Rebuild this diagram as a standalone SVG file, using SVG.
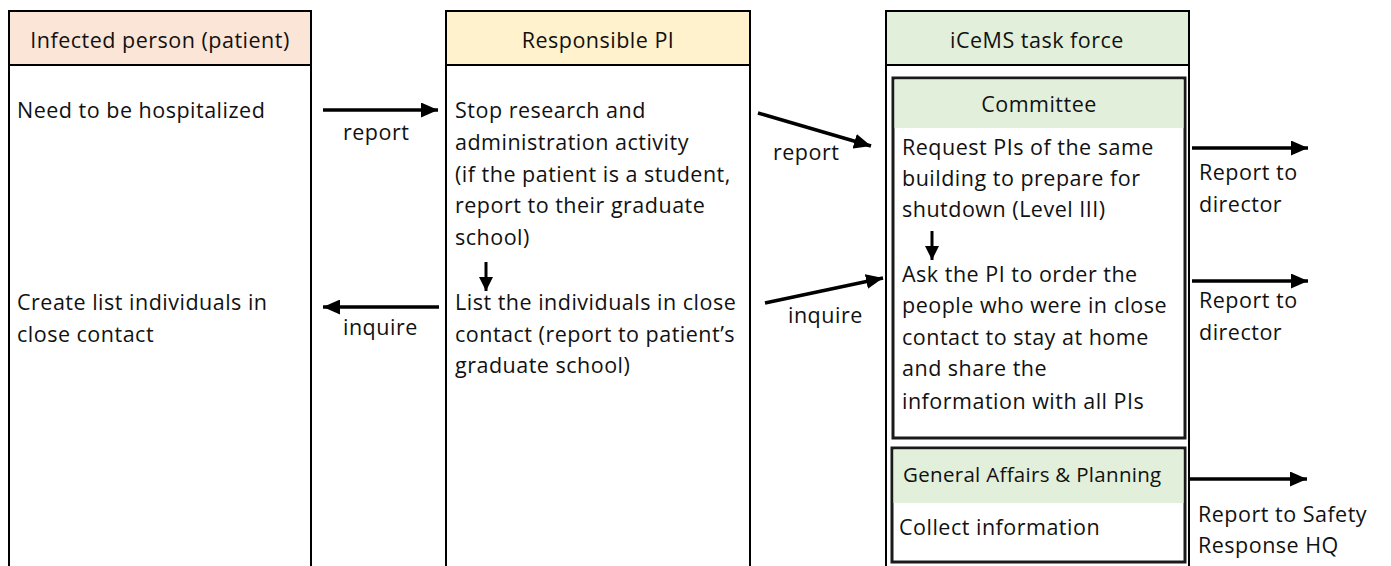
<svg xmlns="http://www.w3.org/2000/svg" width="1391" height="566" viewBox="0 0 1391 566">
<style>
text{font-family:"Open Sans","Noto Sans","Liberation Sans",sans-serif;font-size:21.5px;fill:#111;letter-spacing:0.5px}
.hd{text-anchor:middle}
.col{fill:#fff;stroke:#000;stroke-width:2}
.hline{stroke:#000;stroke-width:2}
.box{fill:#fff;stroke:#1a1a1a;stroke-width:3}
.arr{stroke:#000;stroke-width:3.5;fill:none;marker-end:url(#ah)}
.arrs{stroke:#000;stroke-width:3;fill:none;marker-end:url(#ahs)}
.sm{font-size:20.5px;letter-spacing:0.3px}
</style>
<defs>
<marker id="ah" markerUnits="userSpaceOnUse" markerWidth="17" markerHeight="15" refX="17" refY="7.5" orient="auto"><path d="M0,0 L17,7.5 L0,15 z" fill="#000"/></marker>
<marker id="ahs" markerUnits="userSpaceOnUse" markerWidth="14" markerHeight="14" refX="14" refY="7" orient="auto"><path d="M0,0 L14,7 L0,14 z" fill="#000"/></marker>
</defs>
<rect width="1391" height="566" fill="#fff"/>

<g id="patient">
<rect class="col" x="9" y="11" width="302" height="600"/>
<rect x="10" y="12" width="300" height="53" fill="#FBE5D6"/>
<line class="hline" x1="9" y1="65" x2="311" y2="65"/>
<text class="hd" x="160" y="48">Infected person (patient)</text>
<text x="17" y="118">Need to be hospitalized</text>
<text x="17" y="310">Create list individuals in</text>
<text x="17" y="342">close contact</text>
</g>

<g id="pi">
<rect class="col" x="446" y="11" width="304" height="600"/>
<rect x="447" y="12" width="302" height="53" fill="#FFF2CC"/>
<line class="hline" x1="446" y1="65" x2="750" y2="65"/>
<text class="hd" x="598" y="48">Responsible PI</text>
<text x="455" y="118">Stop research and</text>
<text x="455" y="150">administration activity</text>
<text x="455" y="182">(if the patient is a student,</text>
<text x="455" y="213">report to their graduate</text>
<text x="455" y="245">school)</text>
<text x="455" y="310">List the individuals in close</text>
<text x="455" y="342">contact (report to patient’s</text>
<text x="455" y="373">graduate school)</text>
</g>

<g id="taskforce">
<rect class="col" x="886" y="11" width="303" height="600"/>
<rect x="887" y="12" width="301" height="53" fill="#E2EFDA"/>
<line class="hline" x1="886" y1="65" x2="1189" y2="65"/>
<text class="hd" x="1037" y="48">iCeMS task force</text>
</g>

<g id="committee">
<rect class="box" x="893" y="78" width="292" height="360"/>
<rect x="894.5" y="79.5" width="289" height="48.5" fill="#E2EFDA"/>
<text class="hd" x="1039" y="112">Committee</text>
<text x="902" y="155">Request PIs of the same</text>
<text x="902" y="186">building to prepare for</text>
<text x="902" y="217">shutdown (Level III)</text>
<text x="902" y="282">Ask the PI to order the</text>
<text x="902" y="313">people who were in close</text>
<text x="902" y="345">contact to stay at home</text>
<text x="902" y="376">and share the</text>
<text x="902" y="409">information with all PIs</text>
</g>

<g id="general-affairs">
<rect class="box" x="892" y="448" width="293" height="114"/>
<rect x="893.5" y="449.5" width="290" height="53.5" fill="#E2EFDA"/>
<text class="sm" x="903" y="482">General Affairs &amp; Planning</text>
<text x="899" y="535">Collect information</text>
</g>

<g id="outputs">
<text x="1199" y="180">Report to</text>
<text x="1199" y="212">director</text>
<text x="1199" y="308">Report to</text>
<text x="1199" y="340">director</text>
<text x="1198" y="522">Report to Safety</text>
<text x="1198" y="553">Response HQ</text>
</g>

<g id="connectors">
<line class="arr" x1="323" y1="110" x2="438" y2="110"/>
<text x="343" y="140">report</text>
<line class="arr" x1="439" y1="307" x2="323" y2="307"/>
<text x="343" y="335">inquire</text>
<line class="arr" x1="758" y1="113" x2="871" y2="146"/>
<text x="773" y="160">report</text>
<line class="arr" x1="765" y1="303" x2="883" y2="278"/>
<text x="788" y="323">inquire</text>
<line class="arrs" x1="486" y1="262" x2="486" y2="291"/>
<line class="arrs" x1="932" y1="231" x2="932" y2="260"/>
<line class="arr" x1="1192" y1="148" x2="1308" y2="148"/>
<line class="arr" x1="1192" y1="281" x2="1308" y2="281"/>
<line class="arr" x1="1190" y1="479" x2="1307" y2="479"/>
</g>
</svg>
